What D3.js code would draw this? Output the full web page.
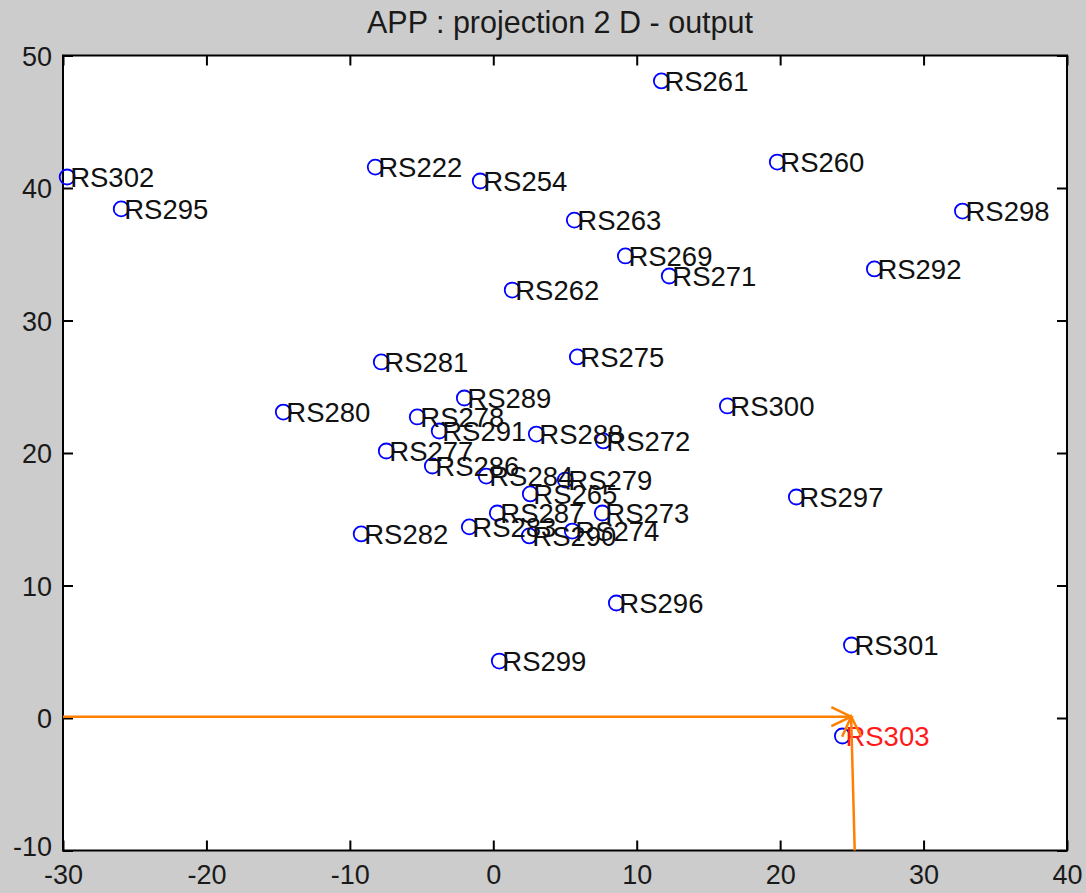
<!DOCTYPE html>
<html>
<head>
<meta charset="utf-8">
<script src="https://cdn.jsdelivr.net/npm/d3@7"></script>
<style>
  html, body { margin: 0; padding: 0; background: #cccccc; }
  svg { display: block; }
  text { font-family: "Liberation Sans", Arial, sans-serif; }
</style>
</head>
<body>
<svg id="chart" width="1086" height="893"></svg>
<script>
// Sample names and their 2-D projection coordinates
const names = ["RS261","RS302","RS295","RS222","RS254","RS260","RS263","RS298","RS269","RS271",
  "RS292","RS262","RS281","RS275","RS300","RS280","RS289","RS278","RS291","RS288",
  "RS272","RS277","RS286","RS284","RS279","RS265","RS287","RS273","RS282","RS283",
  "RS290","RS274","RS297","RS296","RS299","RS301","RS303"];
const xs = [11.72,-29.71,-25.94,-8.23,-0.91,19.80,5.65,32.71,9.21,12.27,
  26.57,1.32,-7.81,5.86,16.32,-14.64,-2.02,-5.30,-3.77,3.00,
  7.67,-7.46,-4.25,-0.49,5.02,2.58,0.28,7.60,-9.21,-1.67,
  2.51,5.51,21.13,8.58,0.42,24.97,24.34];
const ys = [48.08,40.83,38.42,41.58,40.53,41.96,37.58,38.26,34.87,33.36,
  33.89,32.30,26.87,27.25,23.55,23.09,24.15,22.72,21.66,21.43,
  20.91,20.15,19.02,18.26,17.96,16.91,15.47,15.47,13.89,14.42,
  13.74,14.11,16.68,8.68,4.30,5.51,-1.36];
// The highlighted sample (output)
const highlighted = "RS303";

// Axis ticks
const xTicks = [-30,-20,-10,0,10,20,30,40];
const yTicks = [-10,0,10,20,30,40,50];

// Guide arrows pointing at the output sample
const arrowH = [[-30, 0.1], [24.95, 0.1]];
const arrowV = [[25.2, -10], [24.95, 0.1]];

const svg = d3.select("#chart");
const plotL = 63, plotR = 1067, plotT = 55.5, plotB = 850.5;

const x = d3.scaleLinear().domain([-30, 40]).range([plotL, plotR]);
const y = d3.scaleLinear().domain([-10, 50]).range([plotB, plotT]);

// Plot background
svg.append("rect")
  .attr("x", plotL).attr("y", plotT)
  .attr("width", plotR - plotL).attr("height", plotB - plotT)
  .attr("fill", "#ffffff");

const tickLen = 10;
const fontTick = 27;
const fmt = d => String(d); // plain hyphen for negatives

// Bottom axis
const gx = svg.append("g")
  .attr("transform", `translate(0,${plotB})`)
  .call(d3.axisBottom(x).tickValues(xTicks).tickFormat(fmt)
    .tickSizeInner(-tickLen).tickSizeOuter(0).tickPadding(14));
// Top axis (ticks only)
const gxt = svg.append("g")
  .attr("transform", `translate(0,${plotT})`)
  .call(d3.axisTop(x).tickValues(xTicks).tickSizeInner(-tickLen).tickSizeOuter(0).tickFormat(""));
// Left axis
const gy = svg.append("g")
  .attr("transform", `translate(${plotL},0)`)
  .call(d3.axisLeft(y).tickValues(yTicks).tickFormat(fmt)
    .tickSizeInner(-tickLen).tickSizeOuter(0).tickPadding(11));
// Right axis (ticks only)
const gyr = svg.append("g")
  .attr("transform", `translate(${plotR},0)`)
  .call(d3.axisRight(y).tickValues(yTicks).tickSizeInner(-tickLen).tickSizeOuter(0).tickFormat(""));

[gx, gxt, gy, gyr].forEach(g => {
  g.select(".domain").remove();
  g.selectAll(".tick line").attr("stroke", "#000").attr("stroke-width", 2);
  g.selectAll(".tick text")
    .attr("fill", "#1a1a1a")
    .style("font-size", fontTick + "px")
    .style("font-family", "'Liberation Sans', Arial, sans-serif");
});
gx.selectAll(".tick text").attr("dy", "0.72em");
gy.selectAll(".tick text").attr("dy", d => d === yTicks[0] ? "0.18em" : "0.36em");

// Frame
svg.append("rect")
  .attr("x", plotL).attr("y", plotT)
  .attr("width", plotR - plotL).attr("height", plotB - plotT)
  .attr("fill", "none").attr("stroke", "#000").attr("stroke-width", 2);

// Title
svg.append("text")
  .attr("x", (plotL + plotR) / 2 - 5).attr("y", 33)
  .attr("text-anchor", "middle")
  .attr("fill", "#1a1a1a")
  .style("font-size", "30.5px")
  .text("APP : projection 2 D - output");

// Arrow drawing
const orange = "#ff8000";
const line = d3.line().x(d => x(d[0])).y(d => y(d[1]));
function arrow(pts) {
  svg.append("path").attr("d", line(pts))
    .attr("fill", "none").attr("stroke", orange).attr("stroke-width", 2.5);
  const [p0, p1] = pts.map(p => [x(p[0]), y(p[1])]);
  const ang = Math.atan2(p1[1] - p0[1], p1[0] - p0[0]);
  const len = 22, spread = Math.PI / 7;
  const head = [
    [p1[0] - len * Math.cos(ang - spread), p1[1] - len * Math.sin(ang - spread)],
    p1,
    [p1[0] - len * Math.cos(ang + spread), p1[1] - len * Math.sin(ang + spread)]
  ];
  svg.append("path").attr("d", d3.line()(head))
    .attr("fill", "none").attr("stroke", orange).attr("stroke-width", 2.5);
}

// Points
const data = names.map((n, i) => ({ name: n, x: xs[i], y: ys[i] }));
const pts = svg.append("g");
pts.selectAll("circle").data(data).join("circle")
  .attr("cx", d => x(d.x)).attr("cy", d => y(d.y))
  .attr("r", 7.5)
  .attr("fill", "none").attr("stroke", "#0000ff").attr("stroke-width", 1.8);

pts.selectAll("text").data(data).join("text")
  .attr("x", d => x(d.x) + 3).attr("y", d => y(d.y))
  .attr("dy", "0.36em")
  .attr("fill", d => d.name === highlighted ? "#ff1a1a" : "#111")
  .style("font-size", "27.5px")
  .text(d => d.name);

arrow(arrowH);
arrow(arrowV);
</script>
</body>
</html>
